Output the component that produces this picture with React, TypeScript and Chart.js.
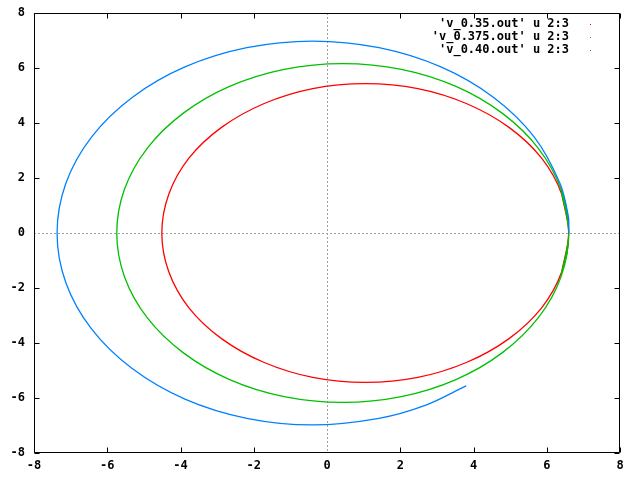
import React, { useEffect, useRef } from 'react';
import { Chart, registerables } from 'chart.js';

Chart.register(...registerables);

// v = 0.35 (red), full orbit (first/last points overlap the start so the loop closes smoothly)
const redX = [6.41, 6.6, 6.41, 5.86, 4.97, 3.82, 2.48, 1.05, -0.39, -1.73, -2.88, -3.77, -4.32, -4.51, -4.32, -3.77, -2.88, -1.73, -0.39, 1.05, 2.48, 3.82, 4.97, 5.86, 6.41, 6.6, 6.41];
const redY = [-1.41, 0, 1.41, 2.72, 3.84, 4.7, 5.25, 5.43, 5.25, 4.7, 3.84, 2.72, 1.41, 0, -1.41, -2.72, -3.84, -4.7, -5.25, -5.43, -5.25, -4.7, -3.84, -2.72, -1.41, 0, 1.41];

// v = 0.375 (green), full orbit
const greenX = [6.39, 6.6, 6.39, 5.77, 4.79, 3.52, 2.03, 0.43, -1.17, -2.66, -3.93, -4.91, -5.53, -5.74, -5.53, -4.91, -3.93, -2.66, -1.17, 0.43, 2.03, 3.52, 4.79, 5.77, 6.39, 6.6, 6.39];
const greenY = [-1.59, 0, 1.59, 3.08, 4.35, 5.33, 5.95, 6.16, 5.95, 5.33, 4.35, 3.08, 1.59, 0, -1.59, -3.08, -4.35, -5.33, -5.95, -6.16, -5.95, -5.33, -4.35, -3.08, -1.59, 0, 1.59];

// v = 0.40 (blue), incomplete orbit
const blueX = [6.6, 6.59, 6.36, 5.66, 4.55, 3.11, 1.42, -0.39, -2.19, -3.88, -5.32, -6.43, -7.13, -7.37, -7.13, -6.43, -5.32, -3.88, -2.19, -0.39, 1.42, 2.68, 3.8];
const blueY = [0, 0.6, 1.81, 3.49, 4.93, 6.04, 6.74, 6.98, 6.74, 6.04, 4.93, 3.49, 1.81, 0, -1.81, -3.49, -4.93, -6.04, -6.74, -6.98, -6.74, -6.27, -5.56];

const legendLabels = ["'v_0.35.out' u 2:3", "'v_0.375.out' u 2:3", "'v_0.40.out' u 2:3"];
const seriesColors = ['#ff0000', '#00c000', '#0080ff'];
const tickValues = [-8, -6, -4, -2, 0, 2, 4, 6, 8];

const FONT = "'DejaVu Sans Mono', 'Liberation Mono', monospace";

const toPoints = (xs: number[], ys: number[]) => xs.map((x, i) => ({ x, y: ys[i] }));

const framePlugin = {
  id: 'gnuframe',
  beforeDatasetsDraw(chart: any) {
    const { ctx, chartArea: a, scales } = chart;
    const x0 = Math.round(scales.x.getPixelForValue(0)) + 0.5;
    const y0 = Math.round(scales.y.getPixelForValue(0)) + 0.5;
    ctx.save();
    ctx.strokeStyle = '#a0a0a0';
    ctx.lineWidth = 1;
    ctx.setLineDash([2, 2]);
    ctx.beginPath();
    ctx.moveTo(x0, a.top);
    ctx.lineTo(x0, a.bottom);
    ctx.moveTo(a.left, y0);
    ctx.lineTo(a.right, y0);
    ctx.stroke();
    ctx.restore();
  },
  afterDatasetsDraw(chart: any) {
    const { ctx, chartArea: a, scales } = chart;
    const L = Math.round(a.left) + 0.5;
    const R = Math.round(a.right) - 0.5;
    const T = Math.round(a.top) + 0.5;
    const B = Math.round(a.bottom) - 0.5;
    const tl = 5;
    ctx.save();
    ctx.strokeStyle = '#000';
    ctx.lineWidth = 1;
    ctx.beginPath();
    ctx.rect(L, T, R - L, B - T);
    tickValues.forEach((v) => {
      if (v === 0) return;
      const px = Math.round(scales.x.getPixelForValue(v)) + 0.5;
      ctx.moveTo(px, B);
      ctx.lineTo(px, B - tl);
      ctx.moveTo(px, T);
      ctx.lineTo(px, T + tl);
      const py = Math.round(scales.y.getPixelForValue(v)) + 0.5;
      ctx.moveTo(L, py);
      ctx.lineTo(L + tl, py);
      ctx.moveTo(R, py);
      ctx.lineTo(R - tl, py);
    });
    ctx.stroke();

    // key (gnuplot style: text then sample)
    ctx.font = `bold 12px ${FONT}`;
    ctx.textAlign = 'right';
    ctx.textBaseline = 'middle';
    legendLabels.forEach((lab, i) => {
      const yy = 24 + i * 13;
      ctx.fillStyle = '#000';
      ctx.fillText(lab, 569, yy);
      ctx.fillStyle = seriesColors[i];
      ctx.fillRect(590, yy, 1, 1);
    });
    ctx.restore();
  },
};

export default function App() {
  const ref = useRef<HTMLCanvasElement | null>(null);

  useEffect(() => {
    if (!ref.current) return;
    const series = [
      { xs: redX, ys: redY },
      { xs: greenX, ys: greenY },
      { xs: blueX, ys: blueY },
    ];
    const chart = new Chart(ref.current, {
      type: 'scatter',
      data: {
        datasets: series.map((s, i) => ({
          label: legendLabels[i],
          data: toPoints(s.xs, s.ys),
          showLine: true,
          borderColor: seriesColors[i],
          backgroundColor: seriesColors[i],
          borderWidth: 1.3,
          pointRadius: 0,
          tension: 0.33,
          fill: false,
          order: 3 - i,
        })),
      },
      options: {
        animation: false,
        responsive: false,
        layout: { padding: { top: 13, right: 20, left: 0, bottom: 0 } },
        plugins: { legend: { display: false }, tooltip: { enabled: false } },
        scales: {
          x: {
            type: 'linear',
            min: -8,
            max: 8,
            ticks: { stepSize: 2, color: '#000', font: { family: FONT, size: 12, weight: 'bold' }, padding: 6, maxRotation: 0, autoSkip: false },
            grid: { display: false, drawTicks: false },
            border: { display: false },
            afterFit: (s: any) => { s.height = 27; },
          },
          y: {
            type: 'linear',
            min: -8,
            max: 8,
            ticks: { stepSize: 2, color: '#000', font: { family: FONT, size: 12, weight: 'bold', lineHeight: 0.4 }, padding: 9, autoSkip: false },
            grid: { display: false, drawTicks: false },
            border: { display: false },
            afterFit: (s: any) => { s.width = 34; },
          },
        },
      },
      plugins: [framePlugin],
    });
    return () => chart.destroy();
  }, []);

  return (
    <div style={{ position: 'fixed', left: 0, top: 0, width: 640, height: 480, background: '#fff' }}>
      <canvas ref={ref} width={640} height={480} style={{ display: 'block' }} />
    </div>
  );
}
